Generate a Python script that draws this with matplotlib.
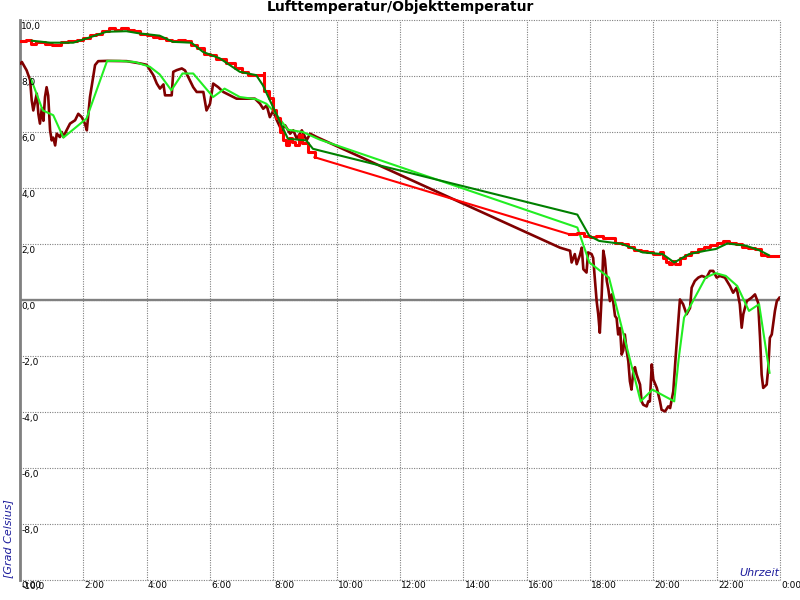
import numpy as np
import matplotlib
matplotlib.use("Agg")
import matplotlib.pyplot as plt

GRAY = "#808080"; BLUE = "#1C1C9C"
RED = "#FF0000"; DKGREEN = "#008000"; MAROON = "#800000"; LIME = "#22EE22"

# Lufttemperatur (raw, stepped)
red_h = [0.0, 0.2, 0.35, 0.5, 0.8, 1.0, 1.3, 1.5, 1.8, 2.0, 2.2, 2.4, 2.6, 2.8, 3.0, 3.2, 3.4,
         3.6, 3.8, 4.0, 4.2, 4.4, 4.6, 4.8, 5.0, 5.2, 5.4, 5.6, 5.8, 6.0, 6.2, 6.5, 6.8, 7.0,
         7.2, 7.5, 7.7, 7.72, 7.85, 8.0, 8.1, 8.2, 8.3, 8.4, 8.5, 8.6, 8.7, 8.8, 8.9, 9.0, 9.1, 9.3,
         17.34, 17.6, 17.8, 18.0, 18.2, 18.4, 18.6, 18.8, 19.0, 19.2, 19.4, 19.6, 19.8, 20.0,
         20.2, 20.3, 20.4, 20.5, 20.6, 20.7, 20.85, 21.0, 21.2, 21.4, 21.6, 21.8, 22.0, 22.2,
         22.4, 22.6, 22.8, 23.0, 23.2, 23.4, 23.6, 23.93]
red_t = [9.25, 9.3, 9.15, 9.2, 9.15, 9.1, 9.2, 9.25, 9.3, 9.35, 9.45, 9.5, 9.62, 9.7, 9.65, 9.7, 9.65,
         9.6, 9.5, 9.45, 9.4, 9.35, 9.3, 9.25, 9.28, 9.25, 9.1, 9.0, 8.8, 8.75, 8.6, 8.45, 8.3, 8.15,
         8.05, 8.05, 8.1, 7.45, 7.2, 6.8, 6.5, 6.0, 5.7, 5.55, 5.8, 5.65, 5.55, 5.9, 5.6, 5.6, 5.3, 5.1,
         2.35, 2.4, 2.3, 2.25, 2.3, 2.2, 2.2, 2.05, 2.0, 1.9, 1.8, 1.76, 1.7, 1.65,
         1.72, 1.5, 1.35, 1.28, 1.4, 1.3, 1.5, 1.6, 1.7, 1.82, 1.9, 1.95, 2.05, 2.1,
         2.05, 2.0, 1.9, 1.85, 1.82, 1.6, 1.58, 1.58]

# Lufttemperatur (smoothed)
air_h = [0.37, 0.95, 1.68, 2.1, 2.73, 3.36, 3.78, 4.41, 4.83, 5.41, 5.78, 6.31, 6.94, 7.46, 7.67,
         8.04, 8.46, 9.04, 9.25, 9.46, 17.6, 17.98, 18.29, 19.02, 19.66, 20.29, 20.66, 21.13,
         21.65, 21.97, 22.34, 22.92, 23.34, 23.65]
air_t = [9.26, 9.19, 9.19, 9.34, 9.58, 9.6, 9.52, 9.44, 9.22, 9.19, 8.86, 8.63, 8.15, 8.03, 7.67,
         6.77, 5.76, 5.7, 5.4, 5.34, 3.05, 2.29, 2.11, 2.0, 1.7, 1.64, 1.34, 1.64,
         1.76, 1.82, 2.02, 1.94, 1.78, 1.6]

# Objekttemperatur (raw)
obj_h = [0.02, 0.06, 0.21, 0.32, 0.37, 0.42, 0.53, 0.58, 0.63, 0.69, 0.74, 0.79, 0.84, 0.89, 0.95,
         1.0, 1.05, 1.11, 1.16, 1.26, 1.32, 1.37, 1.47, 1.58, 1.74, 1.84, 1.95, 2.05, 2.11, 2.16,
         2.21, 2.26, 2.31, 2.37, 2.47, 2.74, 3.37, 3.79, 4.0, 4.21, 4.32, 4.42, 4.53, 4.58, 4.79,
         4.84, 4.95, 5.11, 5.21, 5.31, 5.47, 5.58, 5.79, 5.89, 6.0, 6.1, 6.26, 6.42, 6.63, 6.84,
         7.42, 7.58, 7.68, 7.79, 7.89, 8.0, 8.11, 8.26, 8.37, 8.53, 8.63, 8.74, 8.9, 9.05, 9.16, 9.37,
         17.05, 17.37, 17.42, 17.52, 17.58, 17.68, 17.74, 17.79, 17.89, 17.94, 18.05, 18.1, 18.16,
         18.21, 18.26, 18.31, 18.37, 18.42, 18.47, 18.53, 18.58, 18.63, 18.69, 18.73, 18.79, 18.84,
         18.89, 18.95, 19.0, 19.05, 19.1, 19.16, 19.21, 19.26, 19.31, 19.37, 19.42, 19.47, 19.58,
         19.63, 19.68, 19.79, 19.84, 19.89, 19.95, 20.0, 20.11, 20.21, 20.26, 20.37, 20.47, 20.53,
         20.63, 20.71, 20.79, 20.84, 20.94, 21.05, 21.16, 21.21, 21.31, 21.42, 21.53, 21.68, 21.79,
         21.89, 22.0, 22.1, 22.26, 22.42, 22.52, 22.63, 22.73, 22.79, 22.84, 22.95, 23.1, 23.21,
         23.31, 23.37, 23.42, 23.47, 23.58, 23.63, 23.68, 23.74, 23.84, 23.9, 23.98]
obj_t = [8.45, 8.5, 8.2, 7.85, 7.13, 6.77, 7.37, 6.65, 6.3, 6.85, 6.4, 7.25, 7.6, 7.3, 6.06,
         5.7, 5.8, 5.52, 5.94, 5.82, 6.0, 5.82, 6.06, 6.3, 6.42, 6.65, 6.53, 6.3, 6.06, 6.65,
         7.25, 7.6, 7.97, 8.39, 8.53, 8.54, 8.53, 8.45, 8.4, 8.03, 7.73, 7.55, 7.7, 7.31, 7.31,
         8.15, 8.21, 8.27, 8.2, 7.97, 7.6, 7.43, 7.43, 6.77, 7.01, 7.73, 7.6, 7.43, 7.31, 7.19,
         7.19, 7.01, 6.83, 6.95, 6.53, 6.77, 6.42, 6.06, 6.24, 5.94, 6.06, 5.76, 6.06, 5.7, 5.94, 5.82,
         1.87, 1.76, 1.34, 1.64, 1.28, 1.6, 1.87, 1.1, 0.98, 1.7, 1.64, 1.5, 0.68,
         -0.04, -0.51, -1.17, 0.2, 1.76, 1.46, 0.68, 0.38, -0.04, 0.2, -0.04, -0.57, -0.65,
         -1.23, -1.0, -1.95, -1.8, -1.23, -1.83, -2.19, -2.9, -3.2, -2.54, -2.4, -2.66, -3.02,
         -3.62, -3.74, -3.8, -3.62, -3.62, -2.3, -2.84, -3.14, -3.62, -3.92, -3.98, -3.8, -3.86,
         -3.26, -1.95, -0.75, 0.02, -0.15, -0.51, -0.28, 0.44, 0.68, 0.8, 0.86, 0.8, 1.04,
         1.04, 0.8, 0.86, 0.8, 0.5, 0.26, 0.44, -0.15, -0.99, -0.51, -0.04, 0.08, 0.2,
         -0.1, -1.35, -2.66, -3.14, -3.02, -2.43, -1.35, -1.23, -0.39, -0.04, 0.08]

# Objekttemperatur (smoothed)
objs_h = [0.35, 0.72, 1.05, 1.37, 2.1, 2.75, 3.15, 3.63, 4.1, 4.41, 4.78, 5.13, 5.47, 6.1, 6.46,
          6.94, 7.46, 7.78, 8.04, 8.46, 8.93, 9.46, 17.6, 17.98, 18.6, 19.6, 19.97, 20.66, 20.8,
          20.97, 21.65, 21.97, 22.29, 22.65, 23.02, 23.34, 23.67]
objs_t = [7.89, 6.77, 6.6, 5.8, 6.48, 8.54, 8.54, 8.5, 8.33, 8.06, 7.49, 8.09, 8.09, 7.25, 7.55,
          7.25, 7.17, 7.01, 6.71, 6.08, 6.0, 5.73, 2.59, 1.34, 0.8, -3.62, -3.2, -3.62, -2.1,
          -0.63, 0.8, 0.96, 0.86, 0.5, -0.39, -0.15, -2.6]

x_ticks = list(range(0, 25, 2))
x_labels = ["0:00", "2:00", "4:00", "6:00", "8:00", "10:00", "12:00", "14:00", "16:00",
            "18:00", "20:00", "22:00", "0:00"]
y_ticks = list(range(-10, 11, 2))
y_labels = ["-10,0", "-8,0", "-6,0", "-4,0", "-2,0", "0,0", "2,0", "4,0", "6,0", "8,0", "10,0"]

plt.rcParams["font.family"] = "DejaVu Sans"
fig = plt.figure(figsize=(8, 6), dpi=100)
ax = fig.add_axes([0.025, 1 - 580 / 600, 0.95, 560 / 600])
ax.set_xlim(0, 24); ax.set_ylim(-10, 10)
ax.set_xticks([]); ax.set_yticks([])
for s in ax.spines.values():
    s.set_visible(False)

for xv in x_ticks:
    ax.axvline(xv, color=GRAY, lw=0.8, ls=(0, (1, 1.2)), clip_on=False, zorder=1)
for yv in y_ticks:
    ax.axhline(yv, color=GRAY, lw=0.8, ls=(0, (1, 1.2)), clip_on=False, zorder=1)
ax.axhline(0, color=GRAY, lw=1.7, zorder=2)
ax.axvline(0, color=GRAY, lw=2.0, clip_on=False, zorder=2)

ax.plot(obj_h, obj_t, color=MAROON, lw=1.9, zorder=3)
ax.plot(objs_h, objs_t, color=LIME, lw=1.5, zorder=4)

rh = np.array(red_h); rt = np.array(red_t)
g = int(np.argmax(np.diff(rh) > 2)) + 1
ax.plot(rh[:g], rt[:g], color=RED, lw=2.2, drawstyle="steps-post", zorder=5)
ax.plot(rh[g - 1:g + 1], rt[g - 1:g + 1], color=RED, lw=1.5, zorder=5)
ax.plot(rh[g:], rt[g:], color=RED, lw=2.2, drawstyle="steps-post", zorder=5)
ax.plot(air_h, air_t, color=DKGREEN, lw=1.5, zorder=6)

for yv, lab in zip(y_ticks, y_labels):
    ax.annotate(lab, (0, yv), xytext=(1, -1.5), textcoords="offset points",
                ha="left", va="top", fontsize=6.5, color="black", zorder=7)
for xv, lab in zip(x_ticks, x_labels):
    ax.annotate(lab, (xv, -10), xytext=(1, -4), textcoords="offset points",
                ha="left", va="center", fontsize=6.5, color="black", annotation_clip=False)

fig.text(0.5, 0.988, "Lufttemperatur/Objekttemperatur", ha="center", va="center",
         fontsize=10, fontweight="bold")
fig.text(0.0104, 1 - 578 / 600, "[Grad Celsius]", rotation=90, ha="center", va="bottom",
         fontsize=8, style="italic", color=BLUE)
fig.text(779 / 800, 1 - 572.7 / 600, "Uhrzeit", ha="right", va="center",
         fontsize=8, style="italic", color=BLUE)

fig.savefig("out.png", facecolor="white")
